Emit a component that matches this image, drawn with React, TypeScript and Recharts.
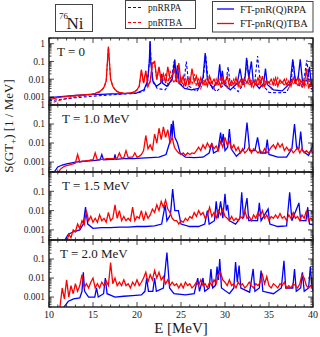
import { LineChart, Line, XAxis, YAxis } from "recharts";

const SERIF = '"Liberation Serif", "Times New Roman", serif';
const BLUE = "#0000ff";
const RED = "#ff0000";
const INK = "#1a1a1a";

// plot box, shared by all four panels
const PL = 49;
const PR = 313;
const PAD = 8;

// red curves are sampled on a 0.25 MeV grid starting at 10 MeV
const E_START = 10;
const E_STEP = 0.25;

const X_MAJOR = [10, 15, 20, 25, 30, 35, 40];
const Y_MAJOR = [0.001, 0.01, 0.1, 1];

// ---- T = 0 ----
const RED_T0 = [
  0.0007, 0.00075, 0.0008, 0.00085, 0.0009, 0.00095, 0.001, 0.001,
  0.00105, 0.0011, 0.0011, 0.00115, 0.0012, 0.0012, 0.00125, 0.0013,
  0.0013, 0.00135, 0.0014, 0.0014, 0.0015, 0.0016, 0.0018, 0.002,
  0.0025, 0.0035, 0.008, 0.7, 0.01, 0.004, 0.0026, 0.002,
  0.0018, 0.0017, 0.0016, 0.0016, 0.0016, 0.0017, 0.0018, 0.002,
  0.0025, 0.004, 0.035, 0.006, 0.03, 0.004, 0.008, 0.08,
  0.1, 0.01, 0.05, 0.008, 0.02, 0.006, 0.05, 0.01,
  0.015, 0.04, 0.008, 0.08, 0.006, 0.015, 0.004, 0.012,
  0.005, 0.04, 0.007, 0.015, 0.004, 0.012, 0.005, 0.009,
  0.004, 0.015, 0.006, 0.01, 0.005, 0.009, 0.004, 0.012,
  0.006, 0.015, 0.004, 0.008, 0.005, 0.012, 0.004, 0.009,
  0.005, 0.01, 0.006, 0.015, 0.004, 0.008, 0.005, 0.012,
  0.005, 0.015, 0.004, 0.008, 0.006, 0.01, 0.005, 0.012,
  0.004, 0.009, 0.006, 0.01, 0.005, 0.008, 0.004, 0.012,
  0.006, 0.012, 0.005, 0.008, 0.004, 0.04, 0.003, 0.006,
  0.003,
];

const RED_T0_DASH = [
  0.0004, 0.00045, 0.0005, 0.00055, 0.0006, 0.00065, 0.0007, 0.00075,
  0.0008, 0.00085, 0.0009, 0.00095, 0.001, 0.00105, 0.0011, 0.00115,
  0.0012, 0.00125, 0.0013, 0.00135, 0.0014, 0.0015, 0.0017, 0.0019,
  0.0024, 0.0034, 0.0075, 0.65, 0.0095, 0.004, 0.0025, 0.002,
  0.0018, 0.0017, 0.0016, 0.0016, 0.0016, 0.0017, 0.0018, 0.002,
  0.0024, 0.0038, 0.03, 0.006, 0.028, 0.004, 0.007, 0.07,
  0.09, 0.009, 0.045, 0.007, 0.008, 0.018, 0.005, 0.03,
  0.01, 0.006, 0.02, 0.005, 0.012, 0.004, 0.01, 0.003,
  0.012, 0.005, 0.02, 0.004, 0.01, 0.003, 0.008, 0.004,
  0.012, 0.005, 0.008, 0.003, 0.01, 0.004, 0.015, 0.005,
  0.008, 0.003, 0.012, 0.004, 0.01, 0.005, 0.007, 0.003,
  0.012, 0.004, 0.008, 0.005, 0.01, 0.003, 0.009, 0.004,
  0.012, 0.004, 0.01, 0.005, 0.008, 0.003, 0.01, 0.004,
  0.012, 0.005, 0.008, 0.004, 0.01, 0.003, 0.009, 0.005,
  0.008, 0.004, 0.012, 0.003, 0.008, 0.004, 0.01, 0.003,
  0.003,
];

type Pair = [number, number];

const BLUE_T0: Pair[] = [
  [10, 0.0009], [11, 0.001], [12, 0.0011], [13, 0.0012], [14, 0.0013], [15, 0.0014],
  [16, 0.0014], [17, 0.0015], [18, 0.0015], [19, 0.0016], [20, 0.0017], [20.8, 0.0025],
  [21.2, 0.008], [21.4, 0.1], [21.48, 1.4], [21.56, 0.1], [21.8, 0.008], [22.2, 0.004],
  [22.7, 0.006], [22.8, 0.02], [22.9, 0.006], [23.4, 0.004], [24.0, 0.01], [24.3, 0.13],
  [24.45, 0.01], [24.6, 0.06], [24.8, 0.006], [25.4, 0.003], [26.2, 0.0025], [27.0, 0.003],
  [27.5, 0.012], [27.75, 0.3], [28.0, 0.01], [28.6, 0.003], [29.2, 0.008], [29.4, 0.07],
  [29.55, 0.008], [29.7, 0.03], [29.9, 0.005], [30.6, 0.0025], [31.4, 0.006], [31.7, 0.04],
  [32.0, 0.005], [32.3, 0.015], [32.45, 0.16], [32.7, 0.012], [33.0, 0.1], [33.2, 0.008],
  [33.9, 0.003], [34.4, 0.006], [34.6, 0.04], [34.8, 0.005], [35.5, 0.0025], [36.5, 0.0022],
  [37.4, 0.006], [37.7, 0.13], [38.0, 0.008], [38.3, 0.01], [38.55, 0.13], [38.8, 0.008],
  [39.3, 0.008], [39.6, 0.05], [39.8, 0.006], [40, 0.003],
];

const BLUE_T0_DASH: Pair[] = [
  [10, 0.0006], [11, 0.0007], [12, 0.0008], [13, 0.0009], [14, 0.001], [15, 0.0011],
  [16, 0.0012], [17, 0.0013], [18, 0.0014], [19, 0.0015], [20, 0.0016], [20.8, 0.0022],
  [21.2, 0.007], [21.4, 0.09], [21.5, 1.2], [21.6, 0.09], [21.8, 0.007], [22.3, 0.003],
  [23.2, 0.0025], [23.9, 0.008], [24.2, 0.1], [24.4, 0.008], [25.3, 0.004], [25.6, 0.1],
  [25.9, 0.004], [26.8, 0.002], [27.5, 0.008], [27.8, 0.25], [28.1, 0.007], [29.0, 0.002],
  [30.1, 0.006], [30.35, 0.05], [30.6, 0.005], [31.5, 0.002], [32.2, 0.006], [32.5, 0.12],
  [32.8, 0.005], [33.4, 0.008], [33.7, 0.2], [34.0, 0.007], [35.0, 0.0018], [36.0, 0.0017],
  [37.0, 0.0018], [37.5, 0.006], [37.75, 0.1], [38.0, 0.006], [38.6, 0.004], [38.9, 0.006],
  [39.3, 0.12], [39.6, 0.005], [40, 0.002],
];

// ---- T = 1.0 MeV ----
const RED_T1 = [
  0.0001, 0.0001, 0.0001, 0.0001, 0.0002, 0.0004, 0.0005, 0.0006,
  0.00065, 0.0007, 0.00075, 0.0008, 0.0009, 0.0025, 0.001, 0.0011,
  0.0011, 0.0012, 0.0012, 0.0013, 0.0013, 0.003, 0.0013, 0.0014,
  0.0014, 0.0014, 0.0015, 0.0015, 0.0015, 0.0015, 0.0016, 0.0016,
  0.003, 0.0016, 0.0017, 0.004, 0.0017, 0.0018, 0.0018, 0.003,
  0.0018, 0.002, 0.0025, 0.004, 0.025, 0.005, 0.008, 0.004,
  0.03, 0.01, 0.06, 0.015, 0.07, 0.02, 0.05, 0.01,
  0.02, 0.006, 0.004, 0.003, 0.0025, 0.003, 0.0022, 0.003,
  0.0025, 0.003, 0.0028, 0.004, 0.006, 0.004, 0.008, 0.005,
  0.01, 0.006, 0.009, 0.005, 0.007, 0.004, 0.012, 0.006,
  0.02, 0.008, 0.012, 0.005, 0.008, 0.004, 0.006, 0.003,
  0.005, 0.003, 0.004, 0.006, 0.003, 0.005, 0.004, 0.003,
  0.004, 0.003, 0.005, 0.003, 0.004, 0.006, 0.008, 0.005,
  0.01, 0.006, 0.009, 0.004, 0.006, 0.004, 0.005, 0.003,
  0.004, 0.006, 0.003, 0.005, 0.003, 0.004, 0.003, 0.004,
  0.003,
];

const BLUE_T1: Pair[] = [
  [10.4, 0.0001], [10.6, 0.0003], [11, 0.00055], [11.5, 0.0007], [12, 0.0008], [13, 0.001],
  [14, 0.0011], [15, 0.0012], [15.8, 0.0013], [16.0, 0.0025], [16.2, 0.0013], [17, 0.0014],
  [17.4, 0.0014], [17.5, 0.0025], [17.6, 0.0014], [18.5, 0.0015], [19.5, 0.0015], [20.5, 0.0016],
  [21.5, 0.0017], [22.5, 0.0018], [23.3, 0.0025], [23.7, 0.01], [23.9, 0.1], [24.0, 0.02],
  [24.1, 0.15], [24.3, 0.02], [24.6, 0.01], [24.9, 0.003], [25.5, 0.0018], [26.5, 0.0017],
  [27.5, 0.0018], [28.2, 0.003], [28.5, 0.01], [28.7, 0.003], [29.2, 0.004], [29.5, 0.035],
  [29.65, 0.01], [29.8, 0.03], [30.0, 0.004], [30.3, 0.006], [30.5, 0.055], [30.7, 0.005],
  [31.3, 0.002], [32.2, 0.005], [32.5, 0.12], [32.8, 0.004], [33.4, 0.004], [33.7, 0.02],
  [34.0, 0.003], [34.6, 0.003], [34.8, 0.015], [35.0, 0.0025], [36, 0.0018], [37, 0.0018],
  [37.6, 0.005], [37.9, 0.1], [38.15, 0.005], [38.4, 0.005], [38.6, 0.04], [38.8, 0.004],
  [39.5, 0.0022], [39.9, 0.006], [40, 0.01],
];

// ---- T = 1.5 MeV ----
const RED_T15 = [
  0.0001, 0.0001, 0.0001, 0.0001, 0.0001, 0.0001, 0.0001, 0.0001,
  0.0002, 0.0006, 0.0004, 0.001, 0.0008, 0.002, 0.0012, 0.003,
  0.0018, 0.01, 0.003, 0.005, 0.0025, 0.004, 0.0025, 0.006,
  0.003, 0.004, 0.0025, 0.008, 0.003, 0.004, 0.02, 0.004,
  0.01, 0.003, 0.005, 0.003, 0.004, 0.003, 0.015, 0.003,
  0.005, 0.004, 0.01, 0.003, 0.008, 0.004, 0.006, 0.012,
  0.008, 0.02, 0.01, 0.03, 0.015, 0.035, 0.012, 0.008,
  0.004, 0.003, 0.003, 0.002, 0.003, 0.0025, 0.004, 0.003,
  0.005, 0.004, 0.008, 0.005, 0.01, 0.006, 0.008, 0.004,
  0.006, 0.015, 0.005, 0.008, 0.004, 0.01, 0.006, 0.012,
  0.005, 0.004, 0.003, 0.005, 0.003, 0.004, 0.003, 0.005,
  0.004, 0.01, 0.004, 0.005, 0.003, 0.006, 0.004, 0.008,
  0.005, 0.01, 0.004, 0.006, 0.003, 0.005, 0.004, 0.006,
  0.004, 0.007, 0.004, 0.005, 0.003, 0.006, 0.004, 0.008,
  0.004, 0.005, 0.003, 0.006, 0.004, 0.01, 0.003, 0.004,
  0.003,
];

const BLUE_T15: Pair[] = [
  [11.5, 0.0001], [11.8, 0.0003], [12.2, 0.0006], [12.8, 0.0008], [13.5, 0.001], [13.9, 0.002],
  [14.15, 0.015], [14.4, 0.002], [15, 0.0012], [16, 0.0013], [17, 0.0013], [18, 0.0014],
  [19, 0.0014], [20, 0.0015], [21, 0.0015], [22, 0.0016], [22.8, 0.002], [23.2, 0.02],
  [23.4, 0.003], [23.8, 0.006], [24.05, 0.13], [24.3, 0.01], [24.7, 0.01], [25.0, 0.002],
  [26, 0.0015], [27, 0.0015], [27.7, 0.002], [28.0, 0.01], [28.2, 0.002], [28.8, 0.003],
  [29.0, 0.03], [29.2, 0.004], [29.5, 0.03], [29.75, 0.004], [30.0, 0.075], [30.15, 0.01],
  [30.3, 0.02], [30.5, 0.003], [31.2, 0.002], [31.7, 0.004], [31.9, 0.09], [32.1, 0.004],
  [32.5, 0.045], [32.7, 0.003], [33.7, 0.003], [33.9, 0.025], [34.1, 0.003], [34.9, 0.012],
  [35.1, 0.002], [36, 0.0015], [37, 0.0016], [37.35, 0.09], [37.6, 0.003], [38.4, 0.025],
  [38.6, 0.003], [39.2, 0.003], [39.4, 0.015], [39.6, 0.002], [40, 0.0018],
];

// ---- T = 2.0 MeV ----
const RED_T2 = [
  0.0001, 0.0001, 0.0001, 0.0001, 0.0001, 0.0003, 0.003, 0.0008,
  0.008, 0.001, 0.004, 0.0015, 0.005, 0.002, 0.004, 0.015,
  0.003, 0.005, 0.003, 0.006, 0.01, 0.003, 0.005, 0.003,
  0.006, 0.004, 0.007, 0.004, 0.065, 0.005, 0.01, 0.004,
  0.006, 0.004, 0.008, 0.004, 0.005, 0.003, 0.006, 0.004,
  0.008, 0.004, 0.006, 0.01, 0.02, 0.006, 0.015, 0.008,
  0.025, 0.01, 0.02, 0.008, 0.012, 0.005, 0.008, 0.004,
  0.006, 0.004, 0.005, 0.003, 0.005, 0.003, 0.006, 0.004,
  0.005, 0.003, 0.004, 0.006, 0.004, 0.008, 0.004, 0.005,
  0.003, 0.006, 0.004, 0.008, 0.005, 0.015, 0.02, 0.008,
  0.006, 0.004, 0.008, 0.004, 0.005, 0.003, 0.006, 0.004,
  0.005, 0.003, 0.004, 0.006, 0.004, 0.003, 0.005, 0.004,
  0.006, 0.015, 0.005, 0.012, 0.004, 0.003, 0.005, 0.004,
  0.003, 0.005, 0.004, 0.006, 0.003, 0.004, 0.003, 0.005,
  0.004, 0.003, 0.005, 0.015, 0.01, 0.004, 0.003, 0.004,
  0.003,
];

const BLUE_T2: Pair[] = [
  [11.3, 0.0001], [11.7, 0.0003], [12.2, 0.0006], [12.8, 0.0008], [13.5, 0.0009], [13.75, 0.002],
  [13.9, 0.02], [14.05, 0.002], [14.5, 0.001], [15.2, 0.001], [15.4, 0.003], [15.6, 0.001],
  [16.2, 0.0015], [16.4, 0.01], [16.6, 0.0015], [17.5, 0.001], [18.5, 0.0011], [19.5, 0.0012],
  [20.5, 0.0013], [20.9, 0.002], [21.1, 0.01], [21.3, 0.002], [21.8, 0.002], [22.0, 0.01],
  [22.2, 0.002], [23.0, 0.003], [23.4, 0.22], [23.7, 0.003], [24.2, 0.0015], [25.5, 0.0013],
  [26.5, 0.0015], [26.9, 0.01], [27.1, 0.002], [27.5, 0.01], [27.7, 0.002], [28.2, 0.003],
  [28.4, 0.03], [28.6, 0.003], [28.9, 0.004], [29.1, 0.04], [29.25, 0.008], [29.4, 0.1],
  [29.6, 0.003], [30.5, 0.0015], [31.0, 0.003], [31.2, 0.07], [31.4, 0.006], [31.6, 0.045],
  [31.8, 0.003], [32.8, 0.0018], [33.2, 0.03], [33.4, 0.002], [33.9, 0.003], [34.1, 0.025],
  [34.3, 0.002], [35.5, 0.0015], [36.4, 0.003], [36.7, 0.08], [36.9, 0.003], [37.7, 0.003],
  [37.9, 0.03], [38.1, 0.002], [38.6, 0.003], [38.8, 0.02], [39.0, 0.002], [39.5, 0.003],
  [39.7, 0.04], [39.9, 0.003], [40, 0.002],
];

const grid = (vals: number[]) => vals.map((v, i) => ({ e: E_START + i * E_STEP, v }));
const pairs = (p: Pair[]) => p.map(([e, v]) => ({ e, v }));

interface PanelDef {
  label: string;
  labelX: number;
  top: number;
  h: number;
  yMin: number;
  yMax: number;
  blue: Pair[];
  red: number[];
  blueDash?: Pair[];
  redDash?: number[];
}

const PANELS: PanelDef[] = [
  { label: "T = 0", labelX: 57, top: 38, h: 67, yMin: 0.00035, yMax: 2.1, blue: BLUE_T0, red: RED_T0, blueDash: BLUE_T0_DASH, redDash: RED_T0_DASH },
  { label: "T = 1.0 MeV", labelX: 62, top: 105, h: 67, yMin: 0.0003, yMax: 1, blue: BLUE_T1, red: RED_T1 },
  { label: "T = 1.5 MeV", labelX: 62, top: 172, h: 68, yMin: 0.0003, yMax: 1, blue: BLUE_T15, red: RED_T15 },
  { label: "T = 2.0 MeV", labelX: 60, top: 240, h: 67, yMin: 0.0003, yMax: 1, blue: BLUE_T2, red: RED_T2 },
];

const X_TICKS: number[] = [];
for (let e = 10; e <= 40; e++) X_TICKS.push(e);

function yTicks(min: number, max: number) {
  const out: number[] = [];
  for (let d = -4; d <= 0; d++) {
    for (let k = 1; k <= 9; k++) {
      const v = Number((k * Math.pow(10, d)).toPrecision(3));
      if (v >= min && v <= max) out.push(v);
    }
  }
  return out;
}

function YTick(props: any) {
  const { y, payload } = props;
  const v = payload.value;
  const major = Y_MAJOR.includes(v);
  const len = major ? 5 : 2.5;
  return (
    <g>
      <line x1={PL} x2={PL + len} y1={y} y2={y} stroke={INK} strokeWidth={0.8} />
      <line x1={PR - len} x2={PR} y1={y} y2={y} stroke={INK} strokeWidth={0.8} />
      {major && (
        <text x={PL - 4} y={y} dy="0.35em" textAnchor="end" fontSize={9.5} fontFamily={SERIF} fill={INK}>
          {String(v)}
        </text>
      )}
    </g>
  );
}

function XTick(props: any) {
  const { x, payload, top, bottom, labels } = props;
  const v = payload.value;
  const major = X_MAJOR.includes(v);
  const len = major ? 5 : 2.5;
  return (
    <g>
      <line x1={x} x2={x} y1={bottom} y2={bottom - len} stroke={INK} strokeWidth={0.8} />
      <line x1={x} x2={x} y1={top} y2={top + len} stroke={INK} strokeWidth={0.8} />
      {labels && major && (
        <text x={x} y={bottom + 7} dy="0.35em" textAnchor="middle" fontSize={10} fontFamily={SERIF} fill={INK}>
          {v}
        </text>
      )}
    </g>
  );
}

function Panel({ p, last }: { p: PanelDef; last: boolean }) {
  const padB = last ? 30 : 8;
  const bottom = PAD + p.h;
  return (
    <div style={{ position: "absolute", left: 0, top: p.top - PAD }}>
      <LineChart width={320} height={PAD + p.h + 1 + padB} margin={{ top: PAD, right: 320 - PR, bottom: padB, left: 0 }}>
        <XAxis
          type="number"
          dataKey="e"
          domain={[10, 40]}
          allowDataOverflow
          ticks={X_TICKS}
          interval={0}
          height={1}
          axisLine={false}
          tickLine={false}
          tick={(t: any) => <XTick {...t} top={PAD} bottom={bottom} labels={last} />}
        />
        <YAxis
          type="number"
          scale="log"
          domain={[p.yMin, p.yMax]}
          allowDataOverflow
          ticks={yTicks(p.yMin, p.yMax)}
          interval={0}
          width={PL}
          axisLine={false}
          tickLine={false}
          tick={(t: any) => <YTick {...t} />}
        />
        <Line data={pairs(p.blue)} dataKey="v" stroke={BLUE} strokeWidth={1.3} dot={false} isAnimationActive={false} />
        {p.blueDash && (
          <Line data={pairs(p.blueDash)} dataKey="v" stroke={BLUE} strokeWidth={1.1} strokeDasharray="3 2" dot={false} isAnimationActive={false} />
        )}
        {p.redDash && (
          <Line data={grid(p.redDash)} dataKey="v" stroke={RED} strokeWidth={1.1} strokeDasharray="3 2" dot={false} isAnimationActive={false} />
        )}
        <Line data={grid(p.red)} dataKey="v" stroke={RED} strokeWidth={1.3} dot={false} isAnimationActive={false} />
      </LineChart>
    </div>
  );
}

export default function App() {
  return (
    <div style={{ position: "absolute", left: 0, top: 0, width: 320, height: 337, background: "#fff", overflow: "hidden" }}>
      {PANELS.map((p, i) => (
        <Panel key={p.label} p={p} last={i === PANELS.length - 1} />
      ))}
      <svg width={320} height={337} style={{ position: "absolute", left: 0, top: 0, pointerEvents: "none" }} fontFamily={SERIF}>
        {PANELS.map((p) => (
          <g key={p.label}>
            <rect x={PL} y={p.top} width={PR - PL} height={p.h} fill="none" stroke={INK} strokeWidth={1.4} />
            <text x={p.labelX} y={p.top + 13} dy="0.35em" fontSize={13} fill={INK}>
              {p.label}
            </text>
          </g>
        ))}

        {/* nucleus box */}
        <rect x={55.5} y={4.5} width={37} height={27} fill="#fff" stroke="#444" strokeWidth={1} />
        <text x={59} y={16} dy="0.35em" fontSize={9} fill={INK}>76</text>
        <text x={66.5} y={23} dy="0.35em" fontSize={17} fill={INK}>Ni</text>

        {/* dashed legend */}
        <rect x={125.5} y={0.5} width={70} height={28} fill="#fff" stroke="#444" strokeWidth={1} />
        <line x1={128} x2={142} y1={7.5} y2={7.5} stroke={BLUE} strokeWidth={1} strokeDasharray="3 2" />
        <text x={148} y={7.5} dy="0.35em" fontSize={9.5} fill={INK}>pnRRPA</text>
        <line x1={128} x2={142} y1={22.5} y2={22.5} stroke={RED} strokeWidth={1} strokeDasharray="3 2" />
        <text x={148} y={22.5} dy="0.35em" fontSize={9.5} fill={INK}>pnRTBA</text>

        {/* solid legend */}
        <rect x={212.5} y={1.5} width={100.5} height={30.5} fill="#fff" stroke="#444" strokeWidth={1} />
        <line x1={217} x2={234} y1={9} y2={9} stroke={BLUE} strokeWidth={1.3} />
        <text x={240} y={9} dy="0.35em" fontSize={10.5} fill={INK}>FT-pnR(Q)RPA</text>
        <line x1={217} x2={234} y1={23.5} y2={23.5} stroke={RED} strokeWidth={1.3} />
        <text x={240} y={23.5} dy="0.35em" fontSize={10.5} fill={INK}>FT-pnR(Q)TBA</text>

        {/* axis titles */}
        <text transform="translate(8,126) rotate(-90)" textAnchor="middle" dy="0.35em" fontSize={13} fill={INK}>
          S(GT<tspan dy={3} fontSize={9}>+</tspan><tspan dy={-3}>) [1 / MeV]</tspan>
        </text>
        <text x={181} y={328} dy="0.35em" textAnchor="middle" fontSize={15} fill={INK}>
          E [MeV]
        </text>
      </svg>
    </div>
  );
}
